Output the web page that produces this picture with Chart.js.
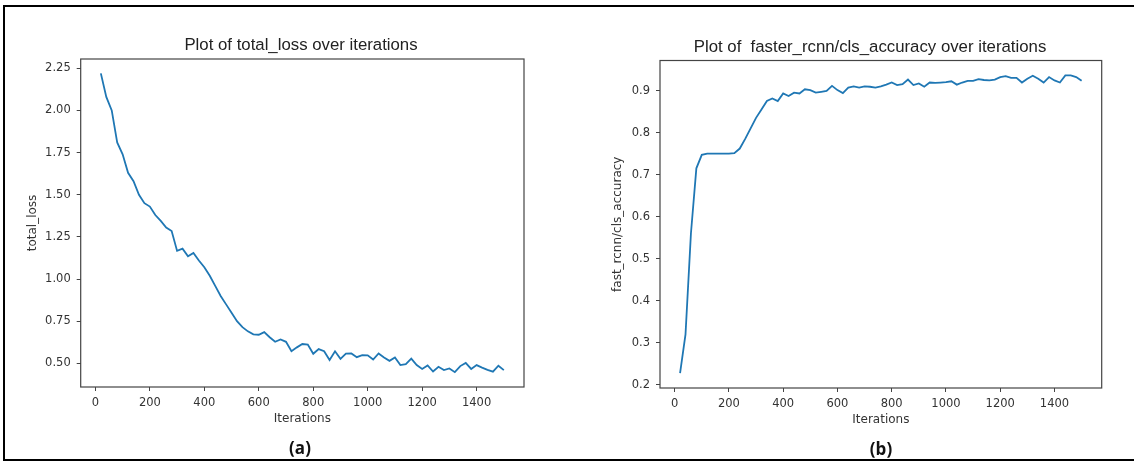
<!DOCTYPE html>
<html>
<head>
<meta charset="utf-8">
<script src="https://cdn.jsdelivr.net/npm/chart.js@4.4.1/dist/chart.umd.min.js"></script>
<style>
  html, body { margin: 0; padding: 0; background: #fff; }
  body { width: 1134px; height: 462px; position: relative; overflow: hidden; }
  .frame { position: absolute; left: 3px; top: 5px; width: 1150px; height: 452px;
           border-top: 2px solid #000; border-left: 2px solid #000; border-bottom: 2px solid #000; }
  canvas { position: absolute; top: 0; }
  .title { position: absolute; font-family: "Liberation Sans Narrow", "Liberation Sans", "DejaVu Sans", sans-serif;
           font-size: 16.8px; color: #222; white-space: nowrap; transform: translate(-50%, -50%); }
  .tag { position: absolute; font-family: "Open Sans", "DejaVu Sans", sans-serif; font-weight: bold;
         font-size: 17px; color: #111; transform: translate(-50%, -50%); }
</style>
</head>
<body>
<div class="frame"></div>
<canvas id="c1" width="560" height="462" style="left:0px"></canvas>
<canvas id="c2" width="567" height="462" style="left:567px"></canvas>
<div class="title" id="t1" style="left:301px; top:45px;"></div>
<div class="title" id="t2" style="left:870px; top:47px;"></div>
<div class="tag" style="left:300px; top:447px;">(a)</div>
<div class="tag" style="left:881px; top:448px;">(b)</div>
<script>
const iterations = [20,40,60,80,100,120,140,160,180,200,220,240,260,280,300,320,340,360,380,400,
  420,440,460,480,500,520,540,560,580,600,620,640,660,680,700,720,740,760,780,800,
  820,840,860,880,900,920,940,960,980,1000,1020,1040,1060,1080,1100,1120,1140,1160,1180,1200,
  1220,1240,1260,1280,1300,1320,1340,1360,1380,1400,1420,1440,1460,1480,1500];

const totalLoss = [2.22,2.08,2.00,1.81,1.74,1.63,1.58,1.50,1.45,1.43,1.38,1.345,1.305,1.285,1.167,1.18,1.135,1.155,1.11,1.07,
  1.02,0.96,0.90,0.85,0.80,0.75,0.715,0.69,0.672,0.67,0.685,0.655,0.628,0.642,0.628,0.572,0.595,0.615,0.612,0.557,
  0.585,0.572,0.52,0.572,0.527,0.558,0.559,0.537,0.549,0.548,0.523,0.559,0.535,0.515,0.535,0.49,0.496,0.528,0.49,0.467,
  0.488,0.452,0.48,0.46,0.47,0.448,0.484,0.503,0.467,0.49,0.475,0.462,0.451,0.486,0.46];

const clsAccuracy = [0.228,0.32,0.56,0.715,0.747,0.75,0.75,0.75,0.75,0.75,0.751,0.762,0.785,0.81,0.835,0.855,0.875,0.881,0.875,0.893,
  0.887,0.895,0.893,0.903,0.901,0.895,0.897,0.899,0.911,0.901,0.894,0.907,0.91,0.907,0.91,0.909,0.907,0.91,0.914,0.919,
  0.913,0.915,0.926,0.913,0.917,0.909,0.919,0.918,0.919,0.92,0.922,0.914,0.919,0.923,0.923,0.927,0.925,0.924,0.926,0.932,
  0.934,0.93,0.93,0.919,0.928,0.935,0.928,0.919,0.932,0.924,0.919,0.936,0.936,0.932,0.923];

const xTicks = [0, 200, 400, 600, 800, 1000, 1200, 1400];
const lossTicks = [0.50, 0.75, 1.00, 1.25, 1.50, 1.75, 2.00, 2.25];
const accTicks = [0.2, 0.3, 0.4, 0.5, 0.6, 0.7, 0.8, 0.9];

const titles = ["Plot of total_loss over iterations", "Plot of\u00a0 faster_rcnn/cls_accuracy over iterations"];
const xLabel = "Iterations";
const yLabels = ["total_loss", "fast_rcnn/cls_accuracy"];

document.getElementById('t1').textContent = titles[0];
document.getElementById('t2').textContent = titles[1];

const framePlugin = {
  id: 'frame',
  afterDraw(chart) {
    const a = chart.chartArea, ctx = chart.ctx;
    ctx.save();
    ctx.strokeStyle = '#444';
    ctx.lineWidth = 1.2;
    ctx.strokeRect(a.left, a.top, a.right - a.left, a.bottom - a.top);
    ctx.restore();
  }
};

function makeChart(id, values, yLabel, yTicks, cfg) {
  const pts = iterations.map((x, i) => ({x: x, y: values[i]}));
  const tickFont = {family: "'DejaVu Sans', sans-serif", size: 11.5};
  const titleFont = {family: "'DejaVu Sans', sans-serif", size: 12};
  return new Chart(document.getElementById(id), {
    type: 'line',
    data: { datasets: [{ data: pts, borderColor: '#1f77b4', borderWidth: 1.8, pointRadius: 0, tension: 0, fill: false }] },
    plugins: [framePlugin],
    options: {
      responsive: false,
      animation: false,
      devicePixelRatio: 1,
      layout: { padding: cfg.padding },
      plugins: { legend: { display: false }, tooltip: { enabled: false }, title: { display: false } },
      scales: {
        x: {
          type: 'linear', min: -54, max: 1574,
          afterBuildTicks: s => { s.ticks = xTicks.map(v => ({value: v})); },
          afterFit: s => { s.height = cfg.xh; },
          border: { display: false },
          grid: { drawOnChartArea: false, drawTicks: true, tickLength: 4, tickColor: '#444', tickWidth: 1 },
          ticks: { padding: 5, color: '#333', font: tickFont, maxRotation: 0, autoSkip: false,
                   callback: v => String(v) },
          title: { display: true, text: xLabel, color: '#333', font: titleFont, padding: 0 }
        },
        y: {
          type: 'linear', min: cfg.ymin, max: cfg.ymax,
          afterBuildTicks: s => { s.ticks = yTicks.map(v => ({value: v})); },
          afterFit: s => { s.width = cfg.yw; },
          border: { display: false },
          grid: { drawOnChartArea: false, drawTicks: true, tickLength: 4, tickColor: '#444', tickWidth: 1 },
          ticks: { padding: 6, color: '#333', font: tickFont, autoSkip: false,
                   callback: v => Number(v).toFixed(cfg.dec) },
          title: { display: true, text: yLabel, color: '#333', font: titleFont, padding: 0 }
        }
      }
    }
  });
}

makeChart('c1', totalLoss, yLabels[0], lossTicks, {
  padding: {left: 25.8, top: 59, right: 36, bottom: 35.8},
  xh: 39.2, yw: 54.9, ymin: 0.36, ymax: 2.305, dec: 2
});
makeChart('c2', clsAccuracy, yLabels[1], accTicks, {
  padding: {left: 43.8, top: 60.5, right: 32.3, bottom: 34.8},
  xh: 39.2, yw: 49.2, ymin: 0.1926, ymax: 0.9714, dec: 1
});
</script>
</body>
</html>
